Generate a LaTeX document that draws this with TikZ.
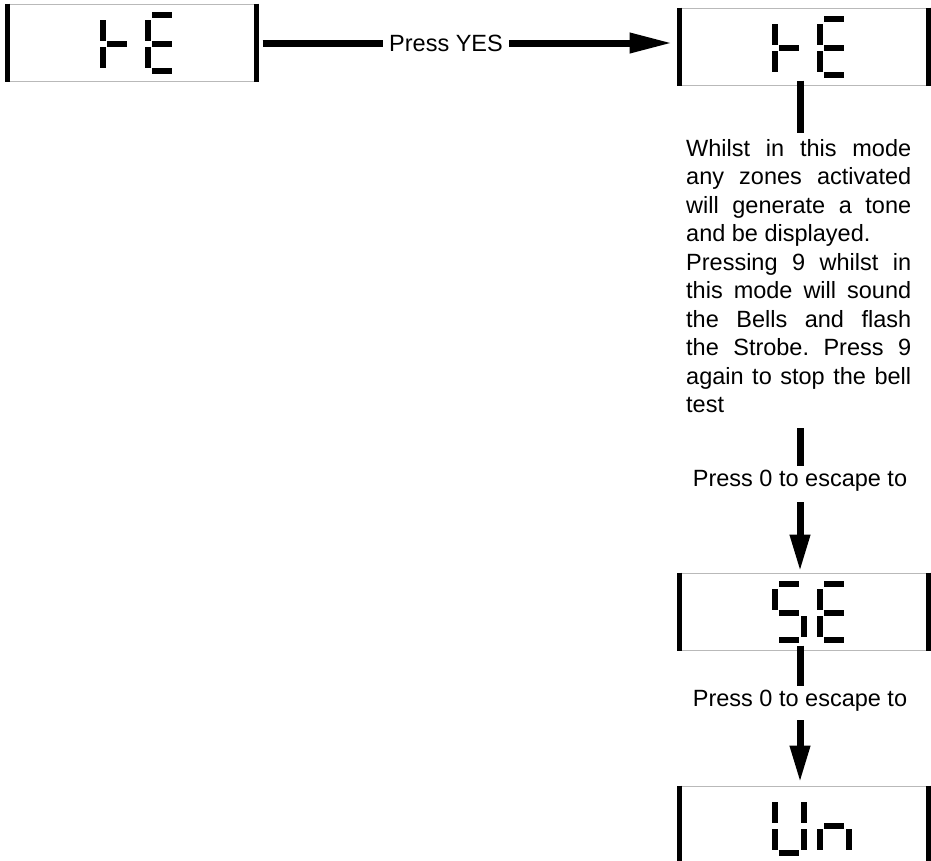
\documentclass[tikz,border=0pt]{standalone}
\usepackage{fontspec}
\setmainfont{Liberation Sans}
\usetikzlibrary{arrows.meta}

% segments of the seven segment read-out (px, y downwards)
\newcommand{\lcdsegment}[4]{\fill (#1,#2) rectangle (#3,#4);}
\newcommand{\lcdsega}{\lcdsegment{7}{8}{27}{14}}
\newcommand{\lcdsegb}{\lcdsegment{29}{16}{35}{37}}
\newcommand{\lcdsegc}{\lcdsegment{29}{43}{35}{64}}
\newcommand{\lcdsegd}{\lcdsegment{7}{64}{27}{70}}
\newcommand{\lcdsege}{\lcdsegment{0}{43}{6}{64}}
\newcommand{\lcdsegf}{\lcdsegment{0}{16}{6}{37}}
\newcommand{\lcdsegg}{\lcdsegment{7}{37}{27}{43}}

% two characters on a display: #1 node, #2 and #3 lists of segments
\newcommand{\lcdtext}[3]{%
  \begin{scope}[shift={(#1.north west)}]
    \begin{scope}[xshift=92pt]\foreach \s in {#2}{\csname lcdseg\s\endcsname}\end{scope}
    \begin{scope}[xshift=137pt]\foreach \s in {#3}{\csname lcdseg\s\endcsname}\end{scope}
  \end{scope}}

\begin{document}
\begin{tikzpicture}[x=1pt, y=-1pt,
    lcd/.style={draw=gray!55, line width=1pt, minimum width=248pt, minimum height=77pt, inner sep=0pt},
    lcdbar/.style={line width=5.5pt},
    caption/.style={font=\fontsize{23.5pt}{28.5pt}\selectfont},
    tag/.style={caption, fill=white, inner xsep=6pt, inner ysep=3pt, text height=17pt, text depth=5pt},
    link/.style={line width=7pt},
    down/.style={link, -{Triangle[length=37pt,width=19pt]}}]

  \useasboundingbox (0,0) rectangle (931,860);
  \clip (0,0) rectangle (931,860);

  % displays
  \node[lcd] (he1) at (132,42.5) {};
  \node[lcd] (he2) at (804,46.5) {};
  \node[lcd] (se) at (804,611.5) {};
  \node[lcd] (un) at (804,824.5) {};

  \lcdtext{he1}{f,e,g}{a,f,g,e,d}
  \lcdtext{he2}{f,e,g}{a,f,g,e,d}
  \lcdtext{se}{a,f,g,c,d}{a,f,g,e,d}
  \lcdtext{un}{f,e,d,b,c}{g,e,c}

  \foreach \n in {he1,he2,se,un} {
    \draw[lcdbar] (\n.north west) -- (\n.south west) (\n.north east) -- (\n.south east);
  }

  % texts
  \node[tag, text height=16.8pt, text depth=0pt] (yes) at (446,43) {Press YES};
  \node[caption, text width=225pt, align=justify, inner sep=0pt, anchor=north west] (info)
        at (686,139) {\tolerance=10000\hbadness=10000\frenchspacing\noindent
        Whilst in this mode\linebreak any zones activated\linebreak will generate a tone\linebreak
        and be displayed.\\ Pressing 9 whilst in\linebreak this mode will sound\linebreak
        the Bells and flash\linebreak the Strobe. Press 9\linebreak again to stop the bell\linebreak test};
  \node[tag] (esc1) at (800,480) {Press 0 to escape to};
  \node[tag] (esc2) at (800,700) {Press 0 to escape to};

  % connectors
  \draw[link, shorten <=6pt] (he1.east |- yes) -- (yes);
  \draw[link, -{Triangle[length=43pt,width=19pt]}, shorten >=7pt] (yes) -- (he2.west |- yes);
  \draw[link, shorten >=6pt] ([yshift=5pt]he2.south -| esc1) -- (info.north -| esc1);
  \draw[link, shorten <=15pt] (info.south -| esc1) -- (esc1);
  \draw[down, shorten <=8pt, shorten >=1pt] (esc1) -- (se.north -| esc1);
  \draw[link] ([yshift=5pt]se.south -| esc2) -- (esc2);
  \draw[down, shorten <=6pt, shorten >=3pt] (esc2) -- (un.north -| esc2);

\end{tikzpicture}
\end{document}
